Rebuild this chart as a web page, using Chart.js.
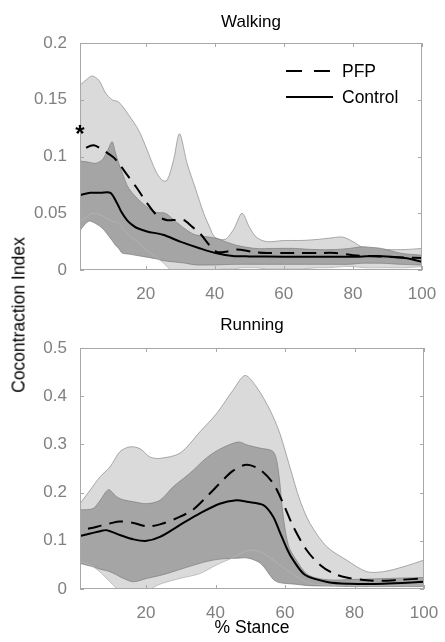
<!DOCTYPE html>
<html>
<head>
<meta charset="utf-8">
<script src="https://cdn.jsdelivr.net/npm/chart.js@4.4.1/dist/chart.umd.min.js"></script>
<style>
  body { margin: 0; background: #fff; width: 445px; height: 642px; position: relative; overflow: hidden;
         font-family: "Liberation Sans", Arial, sans-serif; }
  #walk { position: absolute; left: 0; top: 0; }
  #run { position: absolute; left: 0; top: 300px; }
  #ylab { position: absolute; left: 19px; top: 315px; transform: translate(-50%, -50%) rotate(-90deg);
          font-size: 17.5px; white-space: nowrap; color: #000; }
</style>
</head>
<body>
<canvas id="walk" width="445" height="300"></canvas>
<canvas id="run" width="445" height="342"></canvas>
<div id="ylab">Cocontraction Index</div>
<script>
// ---- axis ticks
const xTicks = [20, 40, 60, 80, 100];
const walkYTicks = [0, 0.05, 0.1, 0.15, 0.2];
const runYTicks = [0, 0.1, 0.2, 0.3, 0.4, 0.5];

// ---- Walking: PFP mean +/- SD band
const walkPfpBandX = [1, 3, 4.5, 6.5, 8.4, 10.3, 12.2, 15, 18, 20.4, 22.8, 24.8, 26.2, 28.1, 29.8, 32, 34.4, 36.8, 38.5, 40, 43, 45.5, 47.9, 50, 52, 55, 60, 65, 70, 73, 77, 80, 83.5, 90, 95, 100];
const walkPfpUpper = [0.163, 0.168, 0.171, 0.167, 0.156, 0.150, 0.148, 0.137, 0.123, 0.106, 0.088, 0.079, 0.079, 0.097, 0.120, 0.094, 0.072, 0.050, 0.038, 0.029, 0.027, 0.036, 0.050, 0.038, 0.029, 0.025, 0.026, 0.026, 0.027, 0.028, 0.029, 0.025, 0.019, 0.018, 0.018, 0.019];
const walkPfpLower = [0.043, 0.047, 0.050, 0.049, 0.046, 0.043, 0.041, 0.031, 0.024, 0.017, 0.012, 0.007, 0.003, -0.003, -0.008, -0.010, -0.008, -0.004, -0.002, 0.000, 0.001, 0.001, 0.002, 0.002, 0.002, 0.001, 0.001, 0.001, 0.002, 0.002, 0.003, 0.003, 0.002, 0.002, 0.002, 0.003];
// ---- Walking: Control band
const walkCtlBandX = [1, 3.5, 5.5, 7.4, 8.8, 10.3, 11.2, 12.2, 13.2, 15.1, 19, 22.8, 25.7, 28.6, 31.5, 34.4, 40.2, 46, 51.7, 57, 63, 69, 74.8, 79, 82.6, 85, 88.3, 94, 100];
const walkCtlUpper = [0.096, 0.095, 0.094, 0.097, 0.104, 0.113, 0.104, 0.094, 0.086, 0.072, 0.059, 0.051, 0.050, 0.043, 0.036, 0.031, 0.028, 0.022, 0.019, 0.019, 0.019, 0.018, 0.018, 0.019, 0.0205, 0.020, 0.019, 0.0147, 0.013];
const walkCtlLower = [0.035, 0.043, 0.041, 0.037, 0.032, 0.026, 0.022, 0.019, 0.015, 0.014, 0.012, 0.010, 0.008, 0.007, 0.006, 0.0045, 0.0045, 0.005, 0.005, 0.005, 0.005, 0.005, 0.005, 0.005, 0.006, 0.006, 0.006, 0.005, 0.0044];
// ---- Walking: means
const walkPfpX = [1, 3, 5, 7, 9, 10.8, 12.7, 14.6, 17.5, 20.4, 23.3, 26, 28, 31, 33.5, 35.8, 38.7, 40.6, 43, 46.4, 51, 55, 60, 65, 70, 75, 80, 87, 95, 100];
const walkPfpMean = [0.103, 0.108, 0.110, 0.107, 0.103, 0.099, 0.092, 0.084, 0.072, 0.059, 0.048, 0.044, 0.044, 0.044, 0.038, 0.032, 0.021, 0.016, 0.016, 0.018, 0.016, 0.015, 0.015, 0.015, 0.015, 0.015, 0.013, 0.012, 0.011, 0.0105];
const walkCtlX = [1, 4, 7, 9.8, 11.7, 13, 14.6, 16, 17.5, 20.4, 25, 30, 35.8, 40.6, 45.2, 50, 60, 70, 80, 87, 95, 100];
const walkCtlMean = [0.066, 0.068, 0.068, 0.068, 0.059, 0.051, 0.044, 0.040, 0.037, 0.034, 0.031, 0.025, 0.019, 0.0147, 0.0123, 0.012, 0.0117, 0.0117, 0.0117, 0.0123, 0.0105, 0.0073];
const walkSigX = 1, walkSigY = 0.122;

// ---- Running: PFP band
const runPfpBandX = [1, 3.9, 6.8, 9.6, 12.5, 15.4, 18.3, 21.1, 24, 29.8, 35.5, 40.3, 45, 48.5, 51.8, 55.7, 58.5, 61.4, 64.3, 67.2, 72, 77.7, 83.5, 88.3, 94, 100];
const runPfpUpper = [0.177, 0.205, 0.233, 0.253, 0.285, 0.295, 0.291, 0.274, 0.271, 0.282, 0.326, 0.364, 0.412, 0.443, 0.419, 0.371, 0.323, 0.253, 0.184, 0.136, 0.088, 0.060, 0.036, 0.036, 0.046, 0.060];
const runPfpLower = [0.057, 0.050, 0.035, 0.015, -0.005, -0.020, -0.025, -0.002, 0.010, 0.022, 0.032, 0.050, 0.065, 0.078, 0.080, 0.065, 0.050, 0.035, 0.022, 0.012, 0.008, 0.007, 0.007, 0.007, 0.008, 0.008];
// ---- Running: Control band
const runCtlBandX = [1, 4.8, 6.8, 9.2, 11.6, 13.5, 16.4, 20.2, 24, 27.8, 32.6, 37.4, 41.2, 46.5, 49.4, 53, 56.6, 58, 59.5, 61, 62.9, 66.7, 72.5, 80, 90, 100];
const runCtlUpper = [0.164, 0.167, 0.184, 0.206, 0.191, 0.185, 0.181, 0.177, 0.184, 0.212, 0.240, 0.272, 0.290, 0.305, 0.298, 0.292, 0.285, 0.250, 0.150, 0.090, 0.064, 0.029, 0.019, 0.020, 0.022, 0.024];
const runCtlLower = [0.053, 0.046, 0.041, 0.037, 0.029, 0.022, 0.015, 0.022, 0.028, 0.036, 0.047, 0.057, 0.062, 0.064, 0.064, 0.053, 0.020, 0.014, 0.012, 0.011, 0.010, 0.007, 0.006, 0.005, 0.005, 0.005];
// ---- Running: means
const runPfpX = [1, 3.9, 6.8, 9.6, 12.5, 16.4, 20.2, 24, 29.8, 33.6, 37.4, 41.2, 45, 49, 52.9, 56.6, 59.5, 62.4, 66.2, 70.1, 74, 77.7, 83.5, 88, 93, 100];
const runPfpMean = [0.122, 0.126, 0.131, 0.136, 0.140, 0.137, 0.130, 0.134, 0.150, 0.165, 0.191, 0.219, 0.245, 0.258, 0.247, 0.219, 0.177, 0.129, 0.081, 0.050, 0.032, 0.024, 0.018, 0.017, 0.019, 0.022];
const runCtlX = [1, 4, 6.8, 8.7, 12.5, 16.4, 20.2, 24, 29.8, 35.5, 41.2, 46, 49, 53.8, 56.6, 58.5, 60.4, 62, 65.8, 72.5, 78.6, 88.3, 100];
const runCtlMean = [0.110, 0.115, 0.120, 0.122, 0.112, 0.103, 0.100, 0.108, 0.133, 0.157, 0.177, 0.184, 0.181, 0.174, 0.150, 0.118, 0.086, 0.064, 0.029, 0.014, 0.011, 0.011, 0.015];

const FONT = '"Liberation Sans", Arial, sans-serif';

function pts(xs, ys) {
  return xs.map((x, i) => ({ x, y: ys[i] }));
}

// box round the axes with inward ticks on all sides (MATLAB look)
const matlabBox = {
  id: 'matlabBox',
  afterDatasetsDraw(chart) {
    const { ctx, chartArea: a, scales: { x, y } } = chart;
    ctx.save();
    ctx.strokeStyle = '#a8a8a8';
    ctx.lineWidth = 1;
    ctx.strokeRect(Math.round(a.left) + 0.5, Math.round(a.top) + 0.5, Math.round(a.width) - 1, Math.round(a.height) - 1);
    ctx.beginPath();
    x.ticks.forEach((t) => {
      const px = Math.round(x.getPixelForValue(t.value)) + 0.5;
      ctx.moveTo(px, a.bottom); ctx.lineTo(px, a.bottom - 4);
      ctx.moveTo(px, a.top); ctx.lineTo(px, a.top + 4);
    });
    y.ticks.forEach((t) => {
      const py = Math.round(y.getPixelForValue(t.value)) + 0.5;
      ctx.moveTo(a.left, py); ctx.lineTo(a.left + 4, py);
      ctx.moveTo(a.right, py); ctx.lineTo(a.right - 4, py);
    });
    ctx.stroke();
    ctx.restore();
  },
};

// legend inside the axes + significance mark
const inlineLegend = {
  id: 'inlineLegend',
  afterDraw(chart, args, opts) {
    if (!opts.show) return;
    const { ctx, chartArea: a, scales: { x, y } } = chart;
    ctx.save();
    const items = chart.data.datasets.filter((d) => d.inLegend);
    items.forEach((d, i) => {
      const ly = a.top + 28 + i * 26;
      const lx = a.right - 136;
      ctx.strokeStyle = '#000';
      ctx.lineWidth = 2;
      ctx.setLineDash(d.borderDash ? [16, 12] : []);
      ctx.beginPath();
      ctx.moveTo(lx, ly);
      ctx.lineTo(lx + 47, ly);
      ctx.stroke();
      ctx.setLineDash([]);
      ctx.fillStyle = '#000';
      ctx.font = '17.5px ' + FONT;
      ctx.textBaseline = 'middle';
      ctx.fillText(d.label, lx + 56, ly + 1);
    });
    if (opts.sig) {
      ctx.font = 'bold 24px ' + FONT;
      ctx.textAlign = 'center';
      ctx.textBaseline = 'middle';
      ctx.fillText('*', x.getPixelForValue(opts.sig.x), y.getPixelForValue(opts.sig.y) + 4);
    }
    ctx.restore();
  },
};

function makeChart(id, cfg) {
  const ds = [
    { label: 'PFP +SD', data: pts(cfg.pfpBandX, cfg.pfpUpper), fill: '+1', backgroundColor: '#dadada',
      borderColor: '#8a8a8a', borderWidth: 0.7, order: 5 },
    { label: 'PFP -SD', data: pts(cfg.pfpBandX, cfg.pfpLower), fill: false,
      borderColor: '#b5b5b5', borderWidth: 0.8, order: 2 },
    { label: 'Control +SD', data: pts(cfg.ctlBandX, cfg.ctlUpper), fill: '+1', backgroundColor: '#a5a5a5',
      borderColor: '#7c7c7c', borderWidth: 0.7, order: 4 },
    { label: 'Control -SD', data: pts(cfg.ctlBandX, cfg.ctlLower), fill: false,
      borderColor: '#7c7c7c', borderWidth: 0.7, order: 3 },
    { label: 'PFP', inLegend: true, data: pts(cfg.pfpX, cfg.pfpMean), fill: false, borderColor: '#000',
      borderWidth: 2, borderDash: [14, 8], borderDashOffset: 14, order: 1 },
    { label: 'Control', inLegend: true, data: pts(cfg.ctlX, cfg.ctlMean), fill: false, borderColor: '#000',
      borderWidth: 2, order: 0 },
  ];
  return new Chart(document.getElementById(id), {
    type: 'line',
    data: { datasets: ds },
    options: {
      responsive: false,
      animation: false,
      elements: { point: { radius: 0 }, line: { tension: 0.3 } },
      layout: { padding: { left: 0, right: cfg.padRight, top: 0, bottom: 0 } },
      plugins: {
        legend: { display: false },
        tooltip: { enabled: false },
        title: {
          display: true, text: cfg.title, color: '#000', fullSize: false,
          font: { family: FONT, size: 17, weight: 'normal' },
          padding: { top: cfg.titleTop, bottom: cfg.titleBottom },
        },
        inlineLegend: { show: cfg.legend, sig: cfg.sig },
      },
      scales: {
        x: {
          type: 'linear', min: 1, max: 100,
          grid: { display: false }, border: { display: false },
          afterBuildTicks: (ax) => { ax.ticks = xTicks.map((v) => ({ value: v })); },
          afterFit: (ax) => { ax.height = cfg.xHeight; },
          ticks: { color: '#808080', padding: 6, maxRotation: 0, font: { family: FONT, size: 17 },
                   callback: (v) => String(v) },
          title: { display: !!cfg.xTitle, text: cfg.xTitle || '', color: '#000',
                   font: { family: FONT, size: 17.5 }, padding: { top: 0, bottom: 3 } },
        },
        y: {
          min: 0, max: cfg.yMax,
          grid: { display: false }, border: { display: false },
          afterBuildTicks: (ax) => { ax.ticks = cfg.yTicks.map((v) => ({ value: v })); },
          afterFit: (ax) => { ax.width = 80; },
          ticks: { color: '#808080', padding: 5, font: { family: FONT, size: 17 },
                   callback: (v) => String(+v.toFixed(3)) },
        },
      },
    },
    plugins: [matlabBox, inlineLegend],
  });
}

makeChart('walk', {
  title: 'Walking', titleTop: 12, titleBottom: 10.6, xHeight: 30, padRight: 23,
  yMax: 0.2, yTicks: walkYTicks, legend: true, sig: { x: walkSigX, y: walkSigY },
  pfpBandX: walkPfpBandX, pfpUpper: walkPfpUpper, pfpLower: walkPfpLower,
  ctlBandX: walkCtlBandX, ctlUpper: walkCtlUpper, ctlLower: walkCtlLower,
  pfpX: walkPfpX, pfpMean: walkPfpMean, ctlX: walkCtlX, ctlMean: walkCtlMean,
});

makeChart('run', {
  title: 'Running', titleTop: 15, titleBottom: 12.6, xHeight: 53, padRight: 21, xTitle: '% Stance',
  yMax: 0.5, yTicks: runYTicks, legend: false, sig: null,
  pfpBandX: runPfpBandX, pfpUpper: runPfpUpper, pfpLower: runPfpLower,
  ctlBandX: runCtlBandX, ctlUpper: runCtlUpper, ctlLower: runCtlLower,
  pfpX: runPfpX, pfpMean: runPfpMean, ctlX: runCtlX, ctlMean: runCtlMean,
});
</script>
</body>
</html>
